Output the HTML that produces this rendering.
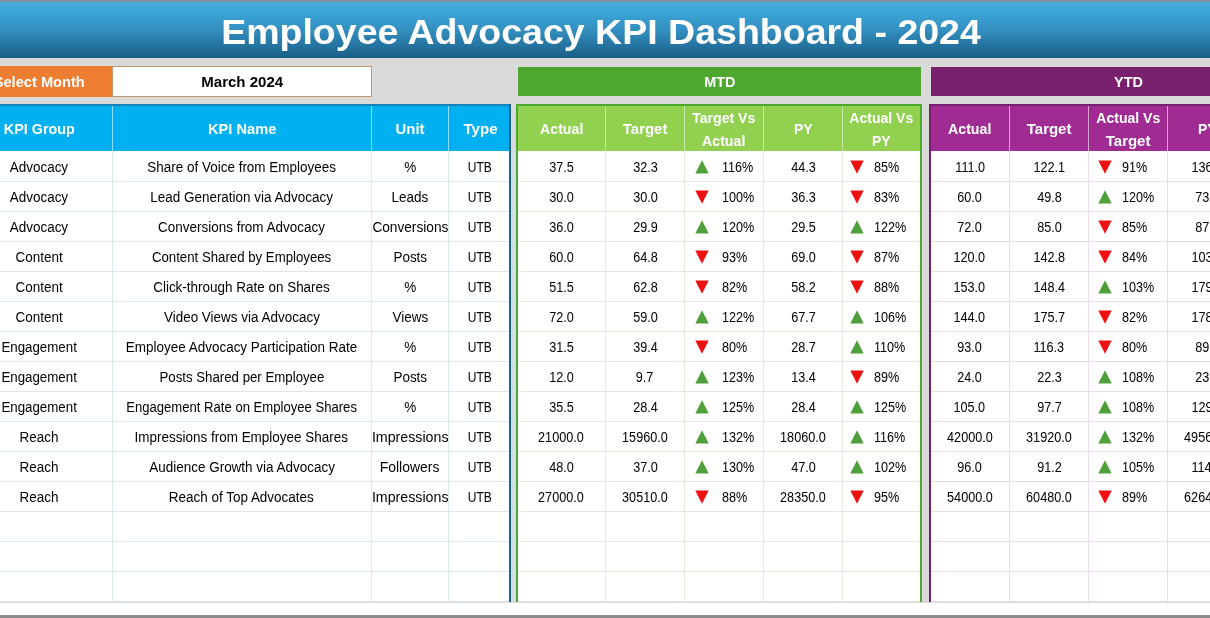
<!DOCTYPE html>
<html lang="en">
<head>
<meta charset="utf-8">
<title>Employee Advocacy KPI Dashboard - 2024</title>
<style>
html,body{margin:0;padding:0;}
html{overflow:hidden;width:1210px;height:618px;background:#d9d9d9;}
body{width:1210px;height:618px;overflow:hidden;position:relative;background:#d9d9d9;font-family:"Liberation Sans",sans-serif;color:#111;}
.sheet{position:absolute;left:0;top:0;width:1210px;height:618px;overflow:hidden;background:#d9d9d9;}
.abs{position:absolute;}
.topstrip{left:0;top:0;width:1210px;height:2px;background:#7f8f99;}
.title{left:0;top:2px;width:1210px;height:56px;background:linear-gradient(#48acde 0%,#3ca4d7 18%,#338fbf 50%,#226f9b 82%,#1c648e 96%,#195a80 100%);}
.title span{position:absolute;left:-4.2px;top:1.5px;width:1210px;height:55px;line-height:55px;text-align:center;color:#fff;font-weight:bold;font-size:35px;white-space:nowrap;transform:scaleX(1.072);transform-origin:50% 50%;}
.cell{position:absolute;display:flex;align-items:center;justify-content:center;white-space:nowrap;overflow:visible;}
.t{display:inline-block;transform-origin:50% 50%;}
.b{font-size:13.8px;color:#000;}
.b .t{transform:scaleX(0.976);}
.b.n .t{transform:scaleX(0.916);}
.b.u .t{transform:scaleX(.87);}
.h{font-size:15.5px;font-weight:bold;color:#fff;text-align:center;line-height:22.3px;}
.h .t{transform:scaleX(0.93);}
.col{flex-direction:column;}
.col .t{display:block;}
.p{position:absolute;font-size:13.8px;color:#000;white-space:nowrap;display:flex;align-items:center;}
.p .t{transform-origin:0 50%;transform:scaleX(0.913);}
.vl,.hl{position:absolute;}
svg{position:absolute;overflow:visible;}
</style>
</head>
<body>
<div class="sheet">

<div class="abs topstrip"></div>
<div class="abs title"><span>Employee Advocacy KPI Dashboard - 2024</span></div>
<div class="cell h" style="left:-34px;top:66px;width:146px;height:30.5px;background:#ed7d31;"><span class="t" style="transform:scaleX(.945);position:relative;top:1px">Select Month</span></div>
<div class="cell" style="left:112px;top:66px;width:260px;height:30.5px;background:#fff;box-shadow:inset 0 0 0 1px #c4976f;font-weight:bold;font-size:15.5px;color:#000;"><span class="t" style="transform:scaleX(.97);position:relative;top:0.6px">March 2024</span></div>
<div class="cell h" style="left:518px;top:67px;width:403px;height:29px;background:#4ea72e;"><span class="t" style="position:relative;top:0.3px;transform:scaleX(.93)">MTD</span></div>
<div class="cell h" style="left:931px;top:67px;width:394px;height:29px;background:#78206e;"><span class="t" style="position:relative;top:0.3px;transform:scaleX(.93)">YTD</span></div>
<div class="abs" style="left:0px;top:151.0px;width:510px;height:450.5px;background:#fff;"></div>
<div class="abs" style="left:0px;top:104px;width:510px;height:47px;background:#00b0f0;"></div>
<div class="cell h col" style="left:-34px;top:105.7px;width:146px;height:46px;"><span class="t hl1" style="transform:scaleX(0.927)">KPI Group</span></div>
<div class="cell h col" style="left:112px;top:105.7px;width:259.5px;height:46px;"><span class="t hl1" style="transform:scaleX(0.945)">KPI Name</span></div>
<div class="cell h col" style="left:371.5px;top:105.7px;width:77.0px;height:46px;"><span class="t hl1" style="transform:scaleX(0.96)">Unit</span></div>
<div class="cell h col" style="left:448.5px;top:105.7px;width:63.5px;height:46px;"><span class="t hl1" style="transform:scaleX(0.97)">Type</span></div>
<div class="vl" style="left:112px;top:106px;width:1px;height:45px;background:#8fdcf9;"></div>
<div class="vl" style="left:112px;top:151px;width:1px;height:450.5px;background:#dae8ef;"></div>
<div class="vl" style="left:371px;top:106px;width:1px;height:45px;background:#8fdcf9;"></div>
<div class="vl" style="left:371px;top:151px;width:1px;height:450.5px;background:#dae8ef;"></div>
<div class="vl" style="left:448px;top:106px;width:1px;height:45px;background:#8fdcf9;"></div>
<div class="vl" style="left:448px;top:151px;width:1px;height:450.5px;background:#dae8ef;"></div>
<div class="hl" style="left:0px;top:181.0px;width:510px;height:1px;background:#dae8ef;"></div>
<div class="hl" style="left:0px;top:211.0px;width:510px;height:1px;background:#dae8ef;"></div>
<div class="hl" style="left:0px;top:241.0px;width:510px;height:1px;background:#dae8ef;"></div>
<div class="hl" style="left:0px;top:271.0px;width:510px;height:1px;background:#dae8ef;"></div>
<div class="hl" style="left:0px;top:301.0px;width:510px;height:1px;background:#dae8ef;"></div>
<div class="hl" style="left:0px;top:331.0px;width:510px;height:1px;background:#dae8ef;"></div>
<div class="hl" style="left:0px;top:361.0px;width:510px;height:1px;background:#dae8ef;"></div>
<div class="hl" style="left:0px;top:391.0px;width:510px;height:1px;background:#dae8ef;"></div>
<div class="hl" style="left:0px;top:421.0px;width:510px;height:1px;background:#dae8ef;"></div>
<div class="hl" style="left:0px;top:451.0px;width:510px;height:1px;background:#dae8ef;"></div>
<div class="hl" style="left:0px;top:481.0px;width:510px;height:1px;background:#dae8ef;"></div>
<div class="hl" style="left:0px;top:511.0px;width:510px;height:1px;background:#dae8ef;"></div>
<div class="hl" style="left:0px;top:541.0px;width:510px;height:1px;background:#dae8ef;"></div>
<div class="hl" style="left:0px;top:571.0px;width:510px;height:1px;background:#dae8ef;"></div>
<div class="hl" style="left:0px;top:601.0px;width:510px;height:1px;background:#dae8ef;"></div>
<div class="abs" style="left:0;top:104px;width:511px;height:2px;background:#1883b8;"></div>
<div class="abs" style="left:509px;top:104px;width:2px;height:497.5px;background:#1f5f80;"></div>
<div class="abs" style="left:511px;top:151px;width:5px;height:450.5px;background:#cfdde4;"></div>
<div class="abs" style="left:516px;top:151.0px;width:406px;height:450.5px;background:#fff;"></div>
<div class="abs" style="left:516px;top:104px;width:406px;height:47px;background:#92d050;"></div>
<div class="cell h col" style="left:517px;top:105.7px;width:88.5px;height:46px;"><span class="t hl1" style="transform:scaleX(0.915)">Actual</span></div>
<div class="cell h col" style="left:605.5px;top:105.7px;width:79.0px;height:46px;"><span class="t hl1" style="transform:scaleX(0.965)">Target</span></div>
<div class="cell h col" style="left:684.5px;top:106.5px;width:79.0px;height:46px;"><span class="t hl2" style="transform:scaleX(0.91)">Target Vs</span><span class="t hl2" style="transform:scaleX(0.915)">Actual</span></div>
<div class="cell h col" style="left:763.5px;top:105.7px;width:79.0px;height:46px;"><span class="t hl1" style="transform:scaleX(0.9)">PY</span></div>
<div class="cell h col" style="left:842.5px;top:106.5px;width:78.5px;height:46px;"><span class="t hl2" style="transform:scaleX(0.905)">Actual Vs</span><span class="t hl2" style="transform:scaleX(0.9)">PY</span></div>
<div class="vl" style="left:605px;top:106px;width:1px;height:45px;background:#c9eaa3;"></div>
<div class="vl" style="left:605px;top:151px;width:1px;height:450.5px;background:#e1eadd;"></div>
<div class="vl" style="left:684px;top:106px;width:1px;height:45px;background:#c9eaa3;"></div>
<div class="vl" style="left:684px;top:151px;width:1px;height:450.5px;background:#e1eadd;"></div>
<div class="vl" style="left:763px;top:106px;width:1px;height:45px;background:#c9eaa3;"></div>
<div class="vl" style="left:763px;top:151px;width:1px;height:450.5px;background:#e1eadd;"></div>
<div class="vl" style="left:842px;top:106px;width:1px;height:45px;background:#c9eaa3;"></div>
<div class="vl" style="left:842px;top:151px;width:1px;height:450.5px;background:#e1eadd;"></div>
<div class="hl" style="left:516px;top:181.0px;width:406px;height:1px;background:#e1eadd;"></div>
<div class="hl" style="left:516px;top:211.0px;width:406px;height:1px;background:#e1eadd;"></div>
<div class="hl" style="left:516px;top:241.0px;width:406px;height:1px;background:#e1eadd;"></div>
<div class="hl" style="left:516px;top:271.0px;width:406px;height:1px;background:#e1eadd;"></div>
<div class="hl" style="left:516px;top:301.0px;width:406px;height:1px;background:#e1eadd;"></div>
<div class="hl" style="left:516px;top:331.0px;width:406px;height:1px;background:#e1eadd;"></div>
<div class="hl" style="left:516px;top:361.0px;width:406px;height:1px;background:#e1eadd;"></div>
<div class="hl" style="left:516px;top:391.0px;width:406px;height:1px;background:#e1eadd;"></div>
<div class="hl" style="left:516px;top:421.0px;width:406px;height:1px;background:#e1eadd;"></div>
<div class="hl" style="left:516px;top:451.0px;width:406px;height:1px;background:#e1eadd;"></div>
<div class="hl" style="left:516px;top:481.0px;width:406px;height:1px;background:#e1eadd;"></div>
<div class="hl" style="left:516px;top:511.0px;width:406px;height:1px;background:#e1eadd;"></div>
<div class="hl" style="left:516px;top:541.0px;width:406px;height:1px;background:#e1eadd;"></div>
<div class="hl" style="left:516px;top:571.0px;width:406px;height:1px;background:#e1eadd;"></div>
<div class="hl" style="left:516px;top:601.0px;width:406px;height:1px;background:#e1eadd;"></div>
<div class="abs" style="left:516px;top:104px;width:406px;height:2px;background:#4ea72e;"></div>
<div class="abs" style="left:516px;top:104px;width:2px;height:497.5px;background:#4ea72e;"></div>
<div class="abs" style="left:920px;top:104px;width:2px;height:497.5px;background:#4ea72e;"></div>
<div class="abs" style="left:929px;top:151.0px;width:401px;height:450.5px;background:#fff;"></div>
<div class="abs" style="left:929px;top:104px;width:401px;height:47px;background:#a02b93;"></div>
<div class="cell h col" style="left:930px;top:105.7px;width:79.5px;height:46px;"><span class="t hl1" style="transform:scaleX(0.915)">Actual</span></div>
<div class="cell h col" style="left:1009.5px;top:105.7px;width:79.0px;height:46px;"><span class="t hl1" style="transform:scaleX(0.965)">Target</span></div>
<div class="cell h col" style="left:1088.5px;top:106.5px;width:79.0px;height:46px;"><span class="t hl2" style="transform:scaleX(0.905)">Actual Vs</span><span class="t hl2" style="transform:scaleX(0.965)">Target</span></div>
<div class="cell h col" style="left:1167.5px;top:105.7px;width:79.0px;height:46px;"><span class="t hl1" style="transform:scaleX(0.9)">PY</span></div>
<div class="cell h col" style="left:1246.5px;top:106.5px;width:79.0px;height:46px;"><span class="t hl2" style="transform:scaleX(0.905)">Actual Vs</span><span class="t hl2" style="transform:scaleX(0.9)">PY</span></div>
<div class="vl" style="left:1009px;top:106px;width:1px;height:45px;background:#d9a5d3;"></div>
<div class="vl" style="left:1009px;top:151px;width:1px;height:450.5px;background:#eddcec;"></div>
<div class="vl" style="left:1088px;top:106px;width:1px;height:45px;background:#d9a5d3;"></div>
<div class="vl" style="left:1088px;top:151px;width:1px;height:450.5px;background:#eddcec;"></div>
<div class="vl" style="left:1167px;top:106px;width:1px;height:45px;background:#d9a5d3;"></div>
<div class="vl" style="left:1167px;top:151px;width:1px;height:450.5px;background:#eddcec;"></div>
<div class="vl" style="left:1246px;top:106px;width:1px;height:45px;background:#d9a5d3;"></div>
<div class="vl" style="left:1246px;top:151px;width:1px;height:450.5px;background:#eddcec;"></div>
<div class="hl" style="left:929px;top:181.0px;width:401px;height:1px;background:#eddcec;"></div>
<div class="hl" style="left:929px;top:211.0px;width:401px;height:1px;background:#eddcec;"></div>
<div class="hl" style="left:929px;top:241.0px;width:401px;height:1px;background:#eddcec;"></div>
<div class="hl" style="left:929px;top:271.0px;width:401px;height:1px;background:#eddcec;"></div>
<div class="hl" style="left:929px;top:301.0px;width:401px;height:1px;background:#eddcec;"></div>
<div class="hl" style="left:929px;top:331.0px;width:401px;height:1px;background:#eddcec;"></div>
<div class="hl" style="left:929px;top:361.0px;width:401px;height:1px;background:#eddcec;"></div>
<div class="hl" style="left:929px;top:391.0px;width:401px;height:1px;background:#eddcec;"></div>
<div class="hl" style="left:929px;top:421.0px;width:401px;height:1px;background:#eddcec;"></div>
<div class="hl" style="left:929px;top:451.0px;width:401px;height:1px;background:#eddcec;"></div>
<div class="hl" style="left:929px;top:481.0px;width:401px;height:1px;background:#eddcec;"></div>
<div class="hl" style="left:929px;top:511.0px;width:401px;height:1px;background:#eddcec;"></div>
<div class="hl" style="left:929px;top:541.0px;width:401px;height:1px;background:#eddcec;"></div>
<div class="hl" style="left:929px;top:571.0px;width:401px;height:1px;background:#eddcec;"></div>
<div class="hl" style="left:929px;top:601.0px;width:401px;height:1px;background:#eddcec;"></div>
<div class="abs" style="left:929px;top:104px;width:400px;height:2px;background:#78206e;"></div>
<div class="abs" style="left:929px;top:104px;width:2px;height:497.5px;background:#78206e;"></div>
<div class="abs" style="left:0;top:602.5px;width:1210px;height:12.5px;background:#fff;"></div>
<div class="abs" style="left:0;top:615px;width:1210px;height:3px;background:#8c8c8c;"></div>
<div class="cell b" style="left:-34px;top:152.0px;width:146px;height:30px;"><span class="t">Advocacy</span></div>
<div class="cell b" style="left:112px;top:152.0px;width:259.5px;height:30px;"><span class="t">Share of Voice from Employees</span></div>
<div class="cell b" style="left:371.5px;top:152.0px;width:77.0px;height:30px;"><span class="t">%</span></div>
<div class="cell b u" style="left:448.5px;top:152.0px;width:63.5px;height:30px;"><span class="t">UTB</span></div>
<div class="cell b n" style="left:517px;top:152.0px;width:88.5px;height:30px;"><span class="t">37.5</span></div>
<div class="cell b n" style="left:605.5px;top:152.0px;width:79.0px;height:30px;"><span class="t">32.3</span></div>
<svg style="left:695.0px;top:159.5px" width="14" height="14" viewBox="0 0 14 14"><polygon points="7,0.3 13.7,13.5 0.3,13.5" fill="#4ea03a"/></svg>
<div class="p" style="left:722.0px;top:152.0px;height:30px;"><span class="t">116%</span></div>
<div class="cell b n" style="left:763.5px;top:152.0px;width:79.0px;height:30px;"><span class="t">44.3</span></div>
<svg style="left:850.0px;top:159.5px" width="14" height="14" viewBox="0 0 14 14"><polygon points="0.3,0.5 13.7,0.5 7,13.7" fill="#ee1111"/></svg>
<div class="p" style="left:873.5px;top:152.0px;height:30px;"><span class="t">85%</span></div>
<div class="cell b n" style="left:930px;top:152.0px;width:79.5px;height:30px;"><span class="t">111.0</span></div>
<div class="cell b n" style="left:1009.5px;top:152.0px;width:79.0px;height:30px;"><span class="t">122.1</span></div>
<svg style="left:1098.0px;top:159.5px" width="14" height="14" viewBox="0 0 14 14"><polygon points="0.3,0.5 13.7,0.5 7,13.7" fill="#ee1111"/></svg>
<div class="p" style="left:1122.0px;top:152.0px;height:30px;"><span class="t">91%</span></div>
<div class="cell b n" style="left:1167.5px;top:152.0px;width:79.0px;height:30px;"><span class="t">136.5</span></div>
<svg style="left:1256.0px;top:159.5px" width="14" height="14" viewBox="0 0 14 14"><polygon points="0.3,0.5 13.7,0.5 7,13.7" fill="#ee1111"/></svg>
<div class="p" style="left:1280.0px;top:152.0px;height:30px;"><span class="t">81%</span></div>
<div class="cell b" style="left:-34px;top:182.0px;width:146px;height:30px;"><span class="t">Advocacy</span></div>
<div class="cell b" style="left:112px;top:182.0px;width:259.5px;height:30px;"><span class="t">Lead Generation via Advocacy</span></div>
<div class="cell b" style="left:371.5px;top:182.0px;width:77.0px;height:30px;"><span class="t">Leads</span></div>
<div class="cell b u" style="left:448.5px;top:182.0px;width:63.5px;height:30px;"><span class="t">UTB</span></div>
<div class="cell b n" style="left:517px;top:182.0px;width:88.5px;height:30px;"><span class="t">30.0</span></div>
<div class="cell b n" style="left:605.5px;top:182.0px;width:79.0px;height:30px;"><span class="t">30.0</span></div>
<svg style="left:695.0px;top:189.5px" width="14" height="14" viewBox="0 0 14 14"><polygon points="0.3,0.5 13.7,0.5 7,13.7" fill="#ee1111"/></svg>
<div class="p" style="left:722.0px;top:182.0px;height:30px;"><span class="t">100%</span></div>
<div class="cell b n" style="left:763.5px;top:182.0px;width:79.0px;height:30px;"><span class="t">36.3</span></div>
<svg style="left:850.0px;top:189.5px" width="14" height="14" viewBox="0 0 14 14"><polygon points="0.3,0.5 13.7,0.5 7,13.7" fill="#ee1111"/></svg>
<div class="p" style="left:873.5px;top:182.0px;height:30px;"><span class="t">83%</span></div>
<div class="cell b n" style="left:930px;top:182.0px;width:79.5px;height:30px;"><span class="t">60.0</span></div>
<div class="cell b n" style="left:1009.5px;top:182.0px;width:79.0px;height:30px;"><span class="t">49.8</span></div>
<svg style="left:1098.0px;top:189.5px" width="14" height="14" viewBox="0 0 14 14"><polygon points="7,0.3 13.7,13.5 0.3,13.5" fill="#4ea03a"/></svg>
<div class="p" style="left:1122.0px;top:182.0px;height:30px;"><span class="t">120%</span></div>
<div class="cell b n" style="left:1167.5px;top:182.0px;width:79.0px;height:30px;"><span class="t">73.2</span></div>
<div class="cell b" style="left:-34px;top:212.0px;width:146px;height:30px;"><span class="t">Advocacy</span></div>
<div class="cell b" style="left:112px;top:212.0px;width:259.5px;height:30px;"><span class="t">Conversions from Advocacy</span></div>
<div class="cell b" style="left:371.5px;top:212.0px;width:77.0px;height:30px;"><span class="t" style="transform:scaleX(0.99)">Conversions</span></div>
<div class="cell b u" style="left:448.5px;top:212.0px;width:63.5px;height:30px;"><span class="t">UTB</span></div>
<div class="cell b n" style="left:517px;top:212.0px;width:88.5px;height:30px;"><span class="t">36.0</span></div>
<div class="cell b n" style="left:605.5px;top:212.0px;width:79.0px;height:30px;"><span class="t">29.9</span></div>
<svg style="left:695.0px;top:219.5px" width="14" height="14" viewBox="0 0 14 14"><polygon points="7,0.3 13.7,13.5 0.3,13.5" fill="#4ea03a"/></svg>
<div class="p" style="left:722.0px;top:212.0px;height:30px;"><span class="t">120%</span></div>
<div class="cell b n" style="left:763.5px;top:212.0px;width:79.0px;height:30px;"><span class="t">29.5</span></div>
<svg style="left:850.0px;top:219.5px" width="14" height="14" viewBox="0 0 14 14"><polygon points="7,0.3 13.7,13.5 0.3,13.5" fill="#4ea03a"/></svg>
<div class="p" style="left:873.5px;top:212.0px;height:30px;"><span class="t">122%</span></div>
<div class="cell b n" style="left:930px;top:212.0px;width:79.5px;height:30px;"><span class="t">72.0</span></div>
<div class="cell b n" style="left:1009.5px;top:212.0px;width:79.0px;height:30px;"><span class="t">85.0</span></div>
<svg style="left:1098.0px;top:219.5px" width="14" height="14" viewBox="0 0 14 14"><polygon points="0.3,0.5 13.7,0.5 7,13.7" fill="#ee1111"/></svg>
<div class="p" style="left:1122.0px;top:212.0px;height:30px;"><span class="t">85%</span></div>
<div class="cell b n" style="left:1167.5px;top:212.0px;width:79.0px;height:30px;"><span class="t">87.1</span></div>
<div class="cell b" style="left:-34px;top:242.0px;width:146px;height:30px;"><span class="t">Content</span></div>
<div class="cell b" style="left:112px;top:242.0px;width:259.5px;height:30px;"><span class="t" style="transform:scaleX(0.958)">Content Shared by Employees</span></div>
<div class="cell b" style="left:371.5px;top:242.0px;width:77.0px;height:30px;"><span class="t">Posts</span></div>
<div class="cell b u" style="left:448.5px;top:242.0px;width:63.5px;height:30px;"><span class="t">UTB</span></div>
<div class="cell b n" style="left:517px;top:242.0px;width:88.5px;height:30px;"><span class="t">60.0</span></div>
<div class="cell b n" style="left:605.5px;top:242.0px;width:79.0px;height:30px;"><span class="t">64.8</span></div>
<svg style="left:695.0px;top:249.5px" width="14" height="14" viewBox="0 0 14 14"><polygon points="0.3,0.5 13.7,0.5 7,13.7" fill="#ee1111"/></svg>
<div class="p" style="left:722.0px;top:242.0px;height:30px;"><span class="t">93%</span></div>
<div class="cell b n" style="left:763.5px;top:242.0px;width:79.0px;height:30px;"><span class="t">69.0</span></div>
<svg style="left:850.0px;top:249.5px" width="14" height="14" viewBox="0 0 14 14"><polygon points="0.3,0.5 13.7,0.5 7,13.7" fill="#ee1111"/></svg>
<div class="p" style="left:873.5px;top:242.0px;height:30px;"><span class="t">87%</span></div>
<div class="cell b n" style="left:930px;top:242.0px;width:79.5px;height:30px;"><span class="t">120.0</span></div>
<div class="cell b n" style="left:1009.5px;top:242.0px;width:79.0px;height:30px;"><span class="t">142.8</span></div>
<svg style="left:1098.0px;top:249.5px" width="14" height="14" viewBox="0 0 14 14"><polygon points="0.3,0.5 13.7,0.5 7,13.7" fill="#ee1111"/></svg>
<div class="p" style="left:1122.0px;top:242.0px;height:30px;"><span class="t">84%</span></div>
<div class="cell b n" style="left:1167.5px;top:242.0px;width:79.0px;height:30px;"><span class="t">103.2</span></div>
<div class="cell b" style="left:-34px;top:272.0px;width:146px;height:30px;"><span class="t">Content</span></div>
<div class="cell b" style="left:112px;top:272.0px;width:259.5px;height:30px;"><span class="t">Click-through Rate on Shares</span></div>
<div class="cell b" style="left:371.5px;top:272.0px;width:77.0px;height:30px;"><span class="t">%</span></div>
<div class="cell b u" style="left:448.5px;top:272.0px;width:63.5px;height:30px;"><span class="t">UTB</span></div>
<div class="cell b n" style="left:517px;top:272.0px;width:88.5px;height:30px;"><span class="t">51.5</span></div>
<div class="cell b n" style="left:605.5px;top:272.0px;width:79.0px;height:30px;"><span class="t">62.8</span></div>
<svg style="left:695.0px;top:279.5px" width="14" height="14" viewBox="0 0 14 14"><polygon points="0.3,0.5 13.7,0.5 7,13.7" fill="#ee1111"/></svg>
<div class="p" style="left:722.0px;top:272.0px;height:30px;"><span class="t">82%</span></div>
<div class="cell b n" style="left:763.5px;top:272.0px;width:79.0px;height:30px;"><span class="t">58.2</span></div>
<svg style="left:850.0px;top:279.5px" width="14" height="14" viewBox="0 0 14 14"><polygon points="0.3,0.5 13.7,0.5 7,13.7" fill="#ee1111"/></svg>
<div class="p" style="left:873.5px;top:272.0px;height:30px;"><span class="t">88%</span></div>
<div class="cell b n" style="left:930px;top:272.0px;width:79.5px;height:30px;"><span class="t">153.0</span></div>
<div class="cell b n" style="left:1009.5px;top:272.0px;width:79.0px;height:30px;"><span class="t">148.4</span></div>
<svg style="left:1098.0px;top:279.5px" width="14" height="14" viewBox="0 0 14 14"><polygon points="7,0.3 13.7,13.5 0.3,13.5" fill="#4ea03a"/></svg>
<div class="p" style="left:1122.0px;top:272.0px;height:30px;"><span class="t">103%</span></div>
<div class="cell b n" style="left:1167.5px;top:272.0px;width:79.0px;height:30px;"><span class="t">179.0</span></div>
<div class="cell b" style="left:-34px;top:302.0px;width:146px;height:30px;"><span class="t">Content</span></div>
<div class="cell b" style="left:112px;top:302.0px;width:259.5px;height:30px;"><span class="t">Video Views via Advocacy</span></div>
<div class="cell b" style="left:371.5px;top:302.0px;width:77.0px;height:30px;"><span class="t">Views</span></div>
<div class="cell b u" style="left:448.5px;top:302.0px;width:63.5px;height:30px;"><span class="t">UTB</span></div>
<div class="cell b n" style="left:517px;top:302.0px;width:88.5px;height:30px;"><span class="t">72.0</span></div>
<div class="cell b n" style="left:605.5px;top:302.0px;width:79.0px;height:30px;"><span class="t">59.0</span></div>
<svg style="left:695.0px;top:309.5px" width="14" height="14" viewBox="0 0 14 14"><polygon points="7,0.3 13.7,13.5 0.3,13.5" fill="#4ea03a"/></svg>
<div class="p" style="left:722.0px;top:302.0px;height:30px;"><span class="t">122%</span></div>
<div class="cell b n" style="left:763.5px;top:302.0px;width:79.0px;height:30px;"><span class="t">67.7</span></div>
<svg style="left:850.0px;top:309.5px" width="14" height="14" viewBox="0 0 14 14"><polygon points="7,0.3 13.7,13.5 0.3,13.5" fill="#4ea03a"/></svg>
<div class="p" style="left:873.5px;top:302.0px;height:30px;"><span class="t">106%</span></div>
<div class="cell b n" style="left:930px;top:302.0px;width:79.5px;height:30px;"><span class="t">144.0</span></div>
<div class="cell b n" style="left:1009.5px;top:302.0px;width:79.0px;height:30px;"><span class="t">175.7</span></div>
<svg style="left:1098.0px;top:309.5px" width="14" height="14" viewBox="0 0 14 14"><polygon points="0.3,0.5 13.7,0.5 7,13.7" fill="#ee1111"/></svg>
<div class="p" style="left:1122.0px;top:302.0px;height:30px;"><span class="t">82%</span></div>
<div class="cell b n" style="left:1167.5px;top:302.0px;width:79.0px;height:30px;"><span class="t">178.6</span></div>
<div class="cell b" style="left:-34px;top:332.0px;width:146px;height:30px;"><span class="t" style="transform:scaleX(0.964)">Engagement</span></div>
<div class="cell b" style="left:112px;top:332.0px;width:259.5px;height:30px;"><span class="t">Employee Advocacy Participation Rate</span></div>
<div class="cell b" style="left:371.5px;top:332.0px;width:77.0px;height:30px;"><span class="t">%</span></div>
<div class="cell b u" style="left:448.5px;top:332.0px;width:63.5px;height:30px;"><span class="t">UTB</span></div>
<div class="cell b n" style="left:517px;top:332.0px;width:88.5px;height:30px;"><span class="t">31.5</span></div>
<div class="cell b n" style="left:605.5px;top:332.0px;width:79.0px;height:30px;"><span class="t">39.4</span></div>
<svg style="left:695.0px;top:339.5px" width="14" height="14" viewBox="0 0 14 14"><polygon points="0.3,0.5 13.7,0.5 7,13.7" fill="#ee1111"/></svg>
<div class="p" style="left:722.0px;top:332.0px;height:30px;"><span class="t">80%</span></div>
<div class="cell b n" style="left:763.5px;top:332.0px;width:79.0px;height:30px;"><span class="t">28.7</span></div>
<svg style="left:850.0px;top:339.5px" width="14" height="14" viewBox="0 0 14 14"><polygon points="7,0.3 13.7,13.5 0.3,13.5" fill="#4ea03a"/></svg>
<div class="p" style="left:873.5px;top:332.0px;height:30px;"><span class="t">110%</span></div>
<div class="cell b n" style="left:930px;top:332.0px;width:79.5px;height:30px;"><span class="t">93.0</span></div>
<div class="cell b n" style="left:1009.5px;top:332.0px;width:79.0px;height:30px;"><span class="t">116.3</span></div>
<svg style="left:1098.0px;top:339.5px" width="14" height="14" viewBox="0 0 14 14"><polygon points="0.3,0.5 13.7,0.5 7,13.7" fill="#ee1111"/></svg>
<div class="p" style="left:1122.0px;top:332.0px;height:30px;"><span class="t">80%</span></div>
<div class="cell b n" style="left:1167.5px;top:332.0px;width:79.0px;height:30px;"><span class="t">89.3</span></div>
<div class="cell b" style="left:-34px;top:362.0px;width:146px;height:30px;"><span class="t" style="transform:scaleX(0.964)">Engagement</span></div>
<div class="cell b" style="left:112px;top:362.0px;width:259.5px;height:30px;"><span class="t" style="transform:scaleX(0.96)">Posts Shared per Employee</span></div>
<div class="cell b" style="left:371.5px;top:362.0px;width:77.0px;height:30px;"><span class="t">Posts</span></div>
<div class="cell b u" style="left:448.5px;top:362.0px;width:63.5px;height:30px;"><span class="t">UTB</span></div>
<div class="cell b n" style="left:517px;top:362.0px;width:88.5px;height:30px;"><span class="t">12.0</span></div>
<div class="cell b n" style="left:605.5px;top:362.0px;width:79.0px;height:30px;"><span class="t">9.7</span></div>
<svg style="left:695.0px;top:369.5px" width="14" height="14" viewBox="0 0 14 14"><polygon points="7,0.3 13.7,13.5 0.3,13.5" fill="#4ea03a"/></svg>
<div class="p" style="left:722.0px;top:362.0px;height:30px;"><span class="t">123%</span></div>
<div class="cell b n" style="left:763.5px;top:362.0px;width:79.0px;height:30px;"><span class="t">13.4</span></div>
<svg style="left:850.0px;top:369.5px" width="14" height="14" viewBox="0 0 14 14"><polygon points="0.3,0.5 13.7,0.5 7,13.7" fill="#ee1111"/></svg>
<div class="p" style="left:873.5px;top:362.0px;height:30px;"><span class="t">89%</span></div>
<div class="cell b n" style="left:930px;top:362.0px;width:79.5px;height:30px;"><span class="t">24.0</span></div>
<div class="cell b n" style="left:1009.5px;top:362.0px;width:79.0px;height:30px;"><span class="t">22.3</span></div>
<svg style="left:1098.0px;top:369.5px" width="14" height="14" viewBox="0 0 14 14"><polygon points="7,0.3 13.7,13.5 0.3,13.5" fill="#4ea03a"/></svg>
<div class="p" style="left:1122.0px;top:362.0px;height:30px;"><span class="t">108%</span></div>
<div class="cell b n" style="left:1167.5px;top:362.0px;width:79.0px;height:30px;"><span class="t">23.5</span></div>
<div class="cell b" style="left:-34px;top:392.0px;width:146px;height:30px;"><span class="t" style="transform:scaleX(0.964)">Engagement</span></div>
<div class="cell b" style="left:112px;top:392.0px;width:259.5px;height:30px;"><span class="t" style="transform:scaleX(0.949)">Engagement Rate on Employee Shares</span></div>
<div class="cell b" style="left:371.5px;top:392.0px;width:77.0px;height:30px;"><span class="t">%</span></div>
<div class="cell b u" style="left:448.5px;top:392.0px;width:63.5px;height:30px;"><span class="t">UTB</span></div>
<div class="cell b n" style="left:517px;top:392.0px;width:88.5px;height:30px;"><span class="t">35.5</span></div>
<div class="cell b n" style="left:605.5px;top:392.0px;width:79.0px;height:30px;"><span class="t">28.4</span></div>
<svg style="left:695.0px;top:399.5px" width="14" height="14" viewBox="0 0 14 14"><polygon points="7,0.3 13.7,13.5 0.3,13.5" fill="#4ea03a"/></svg>
<div class="p" style="left:722.0px;top:392.0px;height:30px;"><span class="t">125%</span></div>
<div class="cell b n" style="left:763.5px;top:392.0px;width:79.0px;height:30px;"><span class="t">28.4</span></div>
<svg style="left:850.0px;top:399.5px" width="14" height="14" viewBox="0 0 14 14"><polygon points="7,0.3 13.7,13.5 0.3,13.5" fill="#4ea03a"/></svg>
<div class="p" style="left:873.5px;top:392.0px;height:30px;"><span class="t">125%</span></div>
<div class="cell b n" style="left:930px;top:392.0px;width:79.5px;height:30px;"><span class="t">105.0</span></div>
<div class="cell b n" style="left:1009.5px;top:392.0px;width:79.0px;height:30px;"><span class="t">97.7</span></div>
<svg style="left:1098.0px;top:399.5px" width="14" height="14" viewBox="0 0 14 14"><polygon points="7,0.3 13.7,13.5 0.3,13.5" fill="#4ea03a"/></svg>
<div class="p" style="left:1122.0px;top:392.0px;height:30px;"><span class="t">108%</span></div>
<div class="cell b n" style="left:1167.5px;top:392.0px;width:79.0px;height:30px;"><span class="t">129.2</span></div>
<div class="cell b" style="left:-34px;top:422.0px;width:146px;height:30px;"><span class="t">Reach</span></div>
<div class="cell b" style="left:112px;top:422.0px;width:259.5px;height:30px;"><span class="t">Impressions from Employee Shares</span></div>
<div class="cell b" style="left:371.5px;top:422.0px;width:77.0px;height:30px;"><span class="t" style="transform:scaleX(1.03)">Impressions</span></div>
<div class="cell b u" style="left:448.5px;top:422.0px;width:63.5px;height:30px;"><span class="t">UTB</span></div>
<div class="cell b n" style="left:517px;top:422.0px;width:88.5px;height:30px;"><span class="t">21000.0</span></div>
<div class="cell b n" style="left:605.5px;top:422.0px;width:79.0px;height:30px;"><span class="t">15960.0</span></div>
<svg style="left:695.0px;top:429.5px" width="14" height="14" viewBox="0 0 14 14"><polygon points="7,0.3 13.7,13.5 0.3,13.5" fill="#4ea03a"/></svg>
<div class="p" style="left:722.0px;top:422.0px;height:30px;"><span class="t">132%</span></div>
<div class="cell b n" style="left:763.5px;top:422.0px;width:79.0px;height:30px;"><span class="t">18060.0</span></div>
<svg style="left:850.0px;top:429.5px" width="14" height="14" viewBox="0 0 14 14"><polygon points="7,0.3 13.7,13.5 0.3,13.5" fill="#4ea03a"/></svg>
<div class="p" style="left:873.5px;top:422.0px;height:30px;"><span class="t">116%</span></div>
<div class="cell b n" style="left:930px;top:422.0px;width:79.5px;height:30px;"><span class="t">42000.0</span></div>
<div class="cell b n" style="left:1009.5px;top:422.0px;width:79.0px;height:30px;"><span class="t">31920.0</span></div>
<svg style="left:1098.0px;top:429.5px" width="14" height="14" viewBox="0 0 14 14"><polygon points="7,0.3 13.7,13.5 0.3,13.5" fill="#4ea03a"/></svg>
<div class="p" style="left:1122.0px;top:422.0px;height:30px;"><span class="t">132%</span></div>
<div class="cell b n" style="left:1167.5px;top:422.0px;width:79.0px;height:30px;"><span class="t">49560.0</span></div>
<div class="cell b" style="left:-34px;top:452.0px;width:146px;height:30px;"><span class="t">Reach</span></div>
<div class="cell b" style="left:112px;top:452.0px;width:259.5px;height:30px;"><span class="t">Audience Growth via Advocacy</span></div>
<div class="cell b" style="left:371.5px;top:452.0px;width:77.0px;height:30px;"><span class="t" style="transform:scaleX(1.012)">Followers</span></div>
<div class="cell b u" style="left:448.5px;top:452.0px;width:63.5px;height:30px;"><span class="t">UTB</span></div>
<div class="cell b n" style="left:517px;top:452.0px;width:88.5px;height:30px;"><span class="t">48.0</span></div>
<div class="cell b n" style="left:605.5px;top:452.0px;width:79.0px;height:30px;"><span class="t">37.0</span></div>
<svg style="left:695.0px;top:459.5px" width="14" height="14" viewBox="0 0 14 14"><polygon points="7,0.3 13.7,13.5 0.3,13.5" fill="#4ea03a"/></svg>
<div class="p" style="left:722.0px;top:452.0px;height:30px;"><span class="t">130%</span></div>
<div class="cell b n" style="left:763.5px;top:452.0px;width:79.0px;height:30px;"><span class="t">47.0</span></div>
<svg style="left:850.0px;top:459.5px" width="14" height="14" viewBox="0 0 14 14"><polygon points="7,0.3 13.7,13.5 0.3,13.5" fill="#4ea03a"/></svg>
<div class="p" style="left:873.5px;top:452.0px;height:30px;"><span class="t">102%</span></div>
<div class="cell b n" style="left:930px;top:452.0px;width:79.5px;height:30px;"><span class="t">96.0</span></div>
<div class="cell b n" style="left:1009.5px;top:452.0px;width:79.0px;height:30px;"><span class="t">91.2</span></div>
<svg style="left:1098.0px;top:459.5px" width="14" height="14" viewBox="0 0 14 14"><polygon points="7,0.3 13.7,13.5 0.3,13.5" fill="#4ea03a"/></svg>
<div class="p" style="left:1122.0px;top:452.0px;height:30px;"><span class="t">105%</span></div>
<div class="cell b n" style="left:1167.5px;top:452.0px;width:79.0px;height:30px;"><span class="t">114.2</span></div>
<div class="cell b" style="left:-34px;top:482.0px;width:146px;height:30px;"><span class="t">Reach</span></div>
<div class="cell b" style="left:112px;top:482.0px;width:259.5px;height:30px;"><span class="t">Reach of Top Advocates</span></div>
<div class="cell b" style="left:371.5px;top:482.0px;width:77.0px;height:30px;"><span class="t" style="transform:scaleX(1.03)">Impressions</span></div>
<div class="cell b u" style="left:448.5px;top:482.0px;width:63.5px;height:30px;"><span class="t">UTB</span></div>
<div class="cell b n" style="left:517px;top:482.0px;width:88.5px;height:30px;"><span class="t">27000.0</span></div>
<div class="cell b n" style="left:605.5px;top:482.0px;width:79.0px;height:30px;"><span class="t">30510.0</span></div>
<svg style="left:695.0px;top:489.5px" width="14" height="14" viewBox="0 0 14 14"><polygon points="0.3,0.5 13.7,0.5 7,13.7" fill="#ee1111"/></svg>
<div class="p" style="left:722.0px;top:482.0px;height:30px;"><span class="t">88%</span></div>
<div class="cell b n" style="left:763.5px;top:482.0px;width:79.0px;height:30px;"><span class="t">28350.0</span></div>
<svg style="left:850.0px;top:489.5px" width="14" height="14" viewBox="0 0 14 14"><polygon points="0.3,0.5 13.7,0.5 7,13.7" fill="#ee1111"/></svg>
<div class="p" style="left:873.5px;top:482.0px;height:30px;"><span class="t">95%</span></div>
<div class="cell b n" style="left:930px;top:482.0px;width:79.5px;height:30px;"><span class="t">54000.0</span></div>
<div class="cell b n" style="left:1009.5px;top:482.0px;width:79.0px;height:30px;"><span class="t">60480.0</span></div>
<svg style="left:1098.0px;top:489.5px" width="14" height="14" viewBox="0 0 14 14"><polygon points="0.3,0.5 13.7,0.5 7,13.7" fill="#ee1111"/></svg>
<div class="p" style="left:1122.0px;top:482.0px;height:30px;"><span class="t">89%</span></div>
<div class="cell b n" style="left:1167.5px;top:482.0px;width:79.0px;height:30px;"><span class="t">62640.0</span></div>
</div>
</body>
</html>
